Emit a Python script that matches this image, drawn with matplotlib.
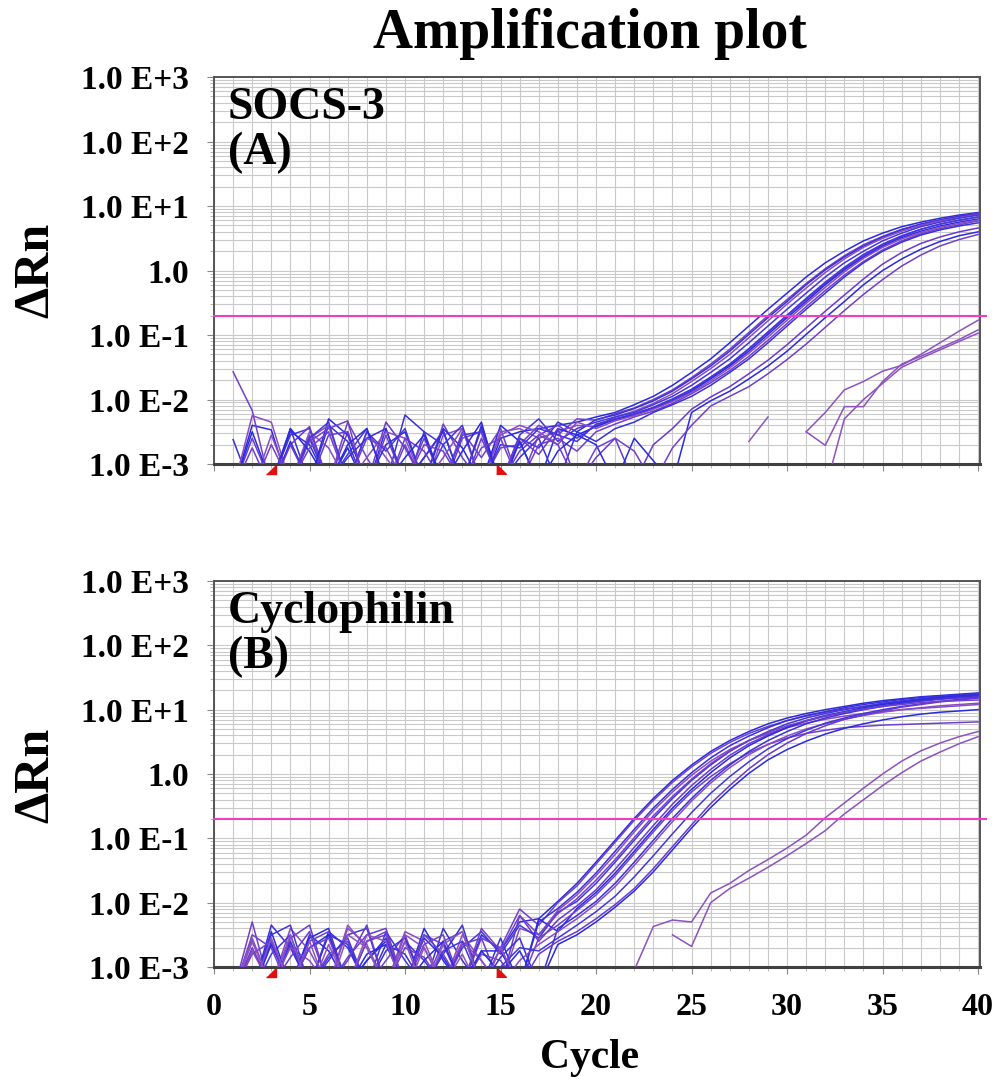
import numpy as np
import matplotlib.pyplot as plt
from matplotlib.ticker import FixedLocator, MultipleLocator, LogLocator, NullFormatter
from matplotlib.transforms import blended_transform_factory

plt.rcParams['font.family'] = ['Liberation Serif', 'DejaVu Serif']
plt.rcParams['font.weight'] = 'bold'

# ---- data: log10(delta Rn) per cycle 1..40, None = point not plotted ----
cycles = list(range(1, 41))
threshold = 0.2
baseline_marks = [3, 15]
ytick_values = [1e-3, 1e-2, 1e-1, 1.0, 1e1, 1e2, 1e3]
ytick_labels = ['1.0 E-3', '1.0 E-2', '1.0 E-1', '1.0', '1.0 E+1', '1.0 E+2', '1.0 E+3']
xtick_values = [0, 5, 10, 15, 20, 25, 30, 35, 40]

N = None

socs_main = [
    [-3.4, -2.4, -2.47, -3.4, -2.6, -3.3, -2.75, -3.4, -2.45, -3.3, -2.9, -2.48, -3.3, -3.4, -2.6,
     -2.5, -2.45, -2.4, -2.35, -2.27, -2.2, -2.08, -1.95, -1.78, -1.58, -1.37, -1.12, -0.86, -0.6, -0.35,
     -0.1, 0.12, 0.3, 0.46, 0.58, 0.68, 0.75, 0.81, 0.86, 0.9],
    [-1.57, -2.17, -3.4, -3.3, -2.55, -3.3, -2.35, -2.9, -3.4, -2.7, -3.3, -2.38, -2.9, -3.3, -2.75,
     -2.7, -2.4, -2.55, -2.3, -2.32, -2.22, -2.13, -2.0, -1.85, -1.66, -1.45, -1.22, -0.96, -0.7, -0.45,
     -0.2, 0.03, 0.23, 0.4, 0.53, 0.64, 0.72, 0.79, 0.84, 0.89],
    [-2.62, -3.4, -3.4, -2.45, -3.3, -2.4, -2.65, -3.4, -3.3, -2.24, -2.5, -3.3, -2.55, -2.5, -3.4,
     -2.6, -2.75, -2.35, -2.5, -2.31, -2.24, -2.14, -2.02, -1.87, -1.68, -1.48, -1.25, -0.99, -0.73, -0.48,
     -0.22, 0.01, 0.21, 0.38, 0.52, 0.63, 0.72, 0.78, 0.84, 0.88],
    [-3.4, -2.25, -2.35, -3.3, -2.5, -2.75, -3.3, -2.5, -2.9, -3.3, -3.4, -2.55, -2.45, -3.3, -2.5,
     -2.45, -2.6, -2.5, -2.4, -2.42, -2.27, -2.18, -2.06, -1.91, -1.72, -1.52, -1.3, -1.04, -0.78, -0.52,
     -0.27, -0.03, 0.18, 0.36, 0.5, 0.61, 0.7, 0.77, 0.82, 0.87],
    [-3.4, -3.4, -3.3, -2.55, -2.45, -3.3, -2.85, -2.45, -3.3, -3.4, -2.5, -2.7, -3.3, -2.45, -3.3,
     -2.55, -2.3, -2.65, -2.45, -2.35, -2.27, -2.2, -2.08, -1.95, -1.78, -1.58, -1.37, -1.12, -0.86, -0.6,
     -0.35, -0.1, 0.12, 0.3, 0.46, 0.58, 0.68, 0.75, 0.81, 0.86],
    [-3.4, -2.6, -3.3, -2.7, -2.42, -3.3, -2.5, -3.3, -2.35, -2.75, -3.3, -3.4, -2.6, -2.5, -3.3,
     -2.8, -2.55, -2.4, -2.6, -2.4, -2.3, -2.23, -2.13, -2.0, -1.85, -1.66, -1.46, -1.22, -0.96, -0.7,
     -0.45, -0.2, 0.03, 0.23, 0.4, 0.53, 0.64, 0.72, 0.78, 0.83],
    [-3.4, -3.4, -3.4, -2.65, -3.3, -2.3, -2.55, -3.3, -2.7, -2.5, -3.3, -2.45, -2.75, -3.3, -2.4,
     -2.65, -3.3, -2.45, -2.55, -2.42, -2.31, -2.24, -2.14, -2.02, -1.87, -1.68, -1.48, -1.25, -0.99, -0.73,
     -0.48, -0.22, 0.01, 0.21, 0.38, 0.51, 0.61, 0.69, 0.75, 0.8],
    [-3.4, -2.75, -3.4, -3.3, -2.65, -2.45, -2.33, -3.4, -2.55, -3.3, -2.6, -3.3, -2.5, -2.9, -2.45,
     -3.3, -2.7, -2.6, -2.8, -2.5, -2.38, -2.27, -2.18, -2.06, -1.91, -1.74, -1.55, -1.33, -1.08, -0.82,
     -0.56, -0.31, -0.07, 0.14, 0.32, 0.46, 0.57, 0.65, 0.71, 0.77],
    [-3.4, -3.4, -3.3, -2.5, -2.7, -3.3, -2.9, -2.6, -2.45, -3.3, -2.9, -2.5, -3.3, -2.4, -3.3,
     -2.9, -2.6, -3.3, -2.5, -2.65, -2.45, -2.35, -2.2, -2.08, -1.95, -1.78, -1.58, -1.37, -1.12, -0.86,
     -0.6, -0.35, -0.1, 0.12, 0.3, 0.44, 0.55, 0.63, 0.69, 0.74],
    [-3.4, -3.4, -2.55, -3.3, -2.6, -2.4, -3.3, -2.9, -2.5, -2.6, -3.3, -2.9, -2.45, -3.3, -2.55,
     -2.4, -2.5, -2.7, -2.35, -2.45, -2.33, -2.25, -2.15, -2.03, -1.89, -1.71, -1.51, -1.28, -1.03, -0.77,
     -0.51, -0.26, -0.02, 0.19, 0.36, 0.49, 0.59, 0.67, 0.73, 0.78],
    [-3.4, -3.4, -3.4, -3.3, -2.6, -2.35, -3.3, -2.5, -2.8, -2.45, -3.3, -2.7, -2.4, -3.3, -2.7,
     -2.75, -2.45, -2.55, -2.65, -2.38, -2.3, -2.22, -2.12, -1.99, -1.84, -1.65, -1.45, -1.21, -0.95, -0.69,
     -0.43, -0.18, 0.05, 0.25, 0.41, 0.54, 0.64, 0.72, 0.78, 0.83],
]

socs_later = [
    [-3.4, -3.4, -3.4, -2.7, -3.3, -2.55, -2.5, -3.3, -3.4, -2.6, -2.8, -3.3, -3.4, -2.6, -3.3,
     -2.6, -2.85, -2.45, -3.3, -2.9, -2.6, -3.3, -2.7, -2.45, -2.15, -1.96, -1.8, -1.6, -1.39, -1.15,
     -0.89, -0.63, -0.38, -0.13, 0.1, 0.28, 0.42, 0.52, 0.6, 0.66],
    [-3.4, -2.5, -3.3, -2.45, -2.8, -3.3, -2.7, -2.45, -3.3, -2.9, -2.55, -3.3, -2.8, -2.35, -3.4,
     -2.65, -3.3, -2.8, -2.55, -2.7, -3.3, -2.6, -2.95, -3.3, -2.2, -2.02, -1.87, -1.68, -1.48, -1.25,
     -0.99, -0.73, -0.48, -0.22, 0.0, 0.18, 0.33, 0.45, 0.54, 0.6],
    [-3.4, -3.4, -2.7, -3.3, -2.75, -2.5, -3.3, -2.6, -2.75, -3.3, -2.7, -2.8, -3.3, -2.75, -2.6,
     -3.3, -2.55, -2.7, -3.3, -2.75, -2.6, -2.8, -3.3, -2.75, -2.4, -2.1, -1.95, -1.8, -1.6, -1.38,
     -1.14, -0.88, -0.62, -0.37, -0.14, 0.07, 0.24, 0.38, 0.48, 0.56],
]

socs_weak = [
    [N] * 30 + [-2.5, -2.2, -1.85, -1.72, -1.56, -1.47, -1.3, -1.12, -0.94, -0.77],
    [N] * 30 + [-2.5, -2.71, -2.11, -2.11, -1.72, -1.45, -1.33, -1.2, -1.07, -0.92],
    [N] * 31 + [-3.4, -2.3, -2.0, -1.75, -1.5, -1.36, -1.23, -1.1, -0.97],
    [N] * 27 + [-2.65, -2.27] + [N] * 11,
]

cyclo_main = [
    [-3.4, -3.4, -2.6, -3.3, -2.5, -2.75, -3.3, -2.9, -2.6, -3.3, -2.55, -2.85, -3.3, -2.5,
     -2.75, -2.3, -2.25, -1.98, -1.7, -1.37, -1.03, -0.69, -0.38, -0.1, 0.14, 0.35, 0.52, 0.66, 0.78, 0.87,
     0.94, 1.0, 1.05, 1.1, 1.14, 1.17, 1.2, 1.22, 1.24, 1.26],
    [-3.4, -2.3, -3.4, -2.65, -3.3, -2.8, -2.6, -3.3, -2.9, -2.5, -3.3, -2.6, -2.45, -3.3,
     -2.7, -2.1, -2.35, -2.0, -1.74, -1.4, -1.06, -0.72, -0.41, -0.13, 0.11, 0.32, 0.49, 0.63, 0.74, 0.83,
     0.9, 0.96, 1.01, 1.05, 1.09, 1.12, 1.15, 1.17, 1.19, 1.21],
    [-3.4, -3.4, -2.35, -2.7, -3.3, -2.45, -2.7, -3.3, -2.65, -2.8, -3.3, -2.4, -2.9, -3.3,
     -2.55, -3.3, -2.3, -2.09, -1.84, -1.54, -1.2, -0.86, -0.53, -0.24, 0.02, 0.25, 0.44, 0.59, 0.72, 0.83,
     0.91, 0.97, 1.03, 1.08, 1.12, 1.16, 1.19, 1.21, 1.23, 1.25],
    [-3.4, -2.75, -3.3, -2.4, -2.75, -3.3, -2.35, -2.7, -3.3, -2.45, -2.6, -3.3, -2.5, -2.9,
     -3.3, -2.4, -2.5, -2.12, -1.88, -1.58, -1.25, -0.9, -0.57, -0.28, -0.02, 0.2, 0.38, 0.52, 0.63, 0.72,
     0.79, 0.85, 0.9, 0.94, 0.97, 1.0, 1.02, 1.04, 1.06, 1.08],
    [-3.4, -3.4, -2.8, -2.5, -3.3, -2.9, -2.5, -2.4, -3.3, -2.6, -2.9, -3.3, -2.7, -2.45,
     -2.8, -2.35, -2.55, -2.15, -1.98, -1.7, -1.37, -1.03, -0.69, -0.38, -0.1, 0.14, 0.35, 0.52, 0.66, 0.78,
     0.87, 0.94, 1.0, 1.05, 1.1, 1.14, 1.17, 1.2, 1.22, 1.24],
    [-3.4, -2.6, -3.3, -2.55, -2.35, -3.3, -2.85, -2.5, -2.4, -3.3, -2.5, -2.65, -3.3, -2.55,
     -3.3, -2.2, -2.6, -2.27, -2.05, -1.8, -1.48, -1.14, -0.8, -0.47, -0.18, 0.07, 0.29, 0.47, 0.61, 0.73,
     0.82, 0.9, 0.96, 1.01, 1.06, 1.1, 1.13, 1.16, 1.18, 1.2],
    [-3.4, -3.4, -2.45, -3.3, -2.55, -2.4, -3.3, -2.9, -2.55, -3.3, -2.4, -2.9, -3.3, -2.75,
     -2.75, -3.3, -2.25, -2.45, -2.09, -1.84, -1.54, -1.2, -0.86, -0.53, -0.24, 0.02, 0.25, 0.44, 0.59, 0.72,
     0.83, 0.91, 0.97, 1.03, 1.08, 1.12, 1.16, 1.19, 1.21, 1.23],
    [-3.4, -2.5, -2.7, -3.4, -2.6, -2.45, -3.3, -2.6, -2.5, -3.3, -2.65, -2.5, -3.3, -2.8,
     -2.9, -3.3, -2.55, -2.35, -2.12, -1.88, -1.58, -1.24, -0.9, -0.57, -0.28, -0.04, 0.16, 0.33, 0.46, 0.56,
     0.63, 0.68, 0.72, 0.74, 0.76, 0.77, 0.78, 0.79, 0.8, 0.81],
    [-3.4, -3.4, -3.4, -2.6, -3.3, -2.5, -2.65, -3.3, -2.75, -2.55, -3.3, -2.8, -2.35, -3.3,
     -2.85, -2.55, -3.3, -2.4, -2.2, -1.98, -1.7, -1.37, -1.03, -0.69, -0.38, -0.1, 0.14, 0.35, 0.52, 0.66,
     0.78, 0.87, 0.94, 1.0, 1.05, 1.1, 1.14, 1.17, 1.2, 1.22],
    [-3.4, -2.55, -3.3, -2.7, -2.9, -3.3, -2.4, -2.65, -3.3, -2.5, -2.7, -3.3, -2.6, -2.9,
     -3.3, -2.9, -2.65, -2.45, -2.25, -2.02, -1.75, -1.42, -1.08, -0.74, -0.42, -0.14, 0.1, 0.3, 0.46, 0.59,
     0.7, 0.78, 0.85, 0.91, 0.96, 1.0, 1.03, 1.06, 1.08, 1.1],
    [-3.4, -3.4, -2.5, -2.35, -3.3, -2.85, -2.55, -3.3, -2.45, -2.9, -3.3, -2.75, -2.6, -3.3,
     -3.0, -2.7, -2.75, -2.55, -2.35, -2.14, -1.9, -1.6, -1.27, -0.93, -0.6, -0.3, -0.04, 0.19, 0.39, 0.55,
     0.68, 0.79, 0.87, 0.94, 1.0, 1.05, 1.09, 1.13, 1.16, 1.19],
    [-3.4, -2.7, -3.3, -2.85, -2.45, -3.3, -2.9, -2.35, -3.3, -2.7, -2.85, -3.3, -2.65, -2.55,
     -2.7, -3.3, -2.8, -2.6, -2.45, -2.25, -2.03, -1.78, -1.47, -1.13, -0.79, -0.46, -0.18, 0.08, 0.3, 0.48,
     0.63, 0.75, 0.85, 0.92, 0.98, 1.04, 1.08, 1.12, 1.15, 1.18],
    [-3.4, -3.4, -2.65, -3.3, -2.7, -2.5, -3.3, -2.8, -2.65, -3.3, -2.9, -2.6, -3.3, -2.75,
     -3.1, -2.75, -3.3, -2.65, -2.5, -2.3, -2.07, -1.82, -1.52, -1.18, -0.84, -0.52, -0.24, 0.01, 0.22, 0.38,
     0.51, 0.62, 0.71, 0.78, 0.84, 0.89, 0.93, 0.96, 0.98, 1.0],
    [-3.4, -2.8, -2.6, -3.3, -2.7, -2.55, -3.3, -2.6, -2.45, -3.3, -2.5, -2.8, -3.3, -2.4,
     -2.75, -2.2, -2.5, -2.17, -1.94, -1.65, -1.33, -0.99, -0.65, -0.35, -0.08, 0.16, 0.36, 0.52, 0.65, 0.75,
     0.83, 0.9, 0.96, 1.01, 1.05, 1.08, 1.11, 1.13, 1.14, 1.15],
]

cyclo_late = [
    [-3.4, -2.6, -3.3, -2.5, -3.4, -2.65, -3.3, -2.5, -2.6, -3.4, -2.7, -3.3, -2.8, -3.4,
     -2.7, -3.3, -3.4, -3.4, -3.4, -3.4, -3.5, -3.05, -2.37, -2.27, -2.3, -1.85, -1.7, -1.5, -1.33, -1.15,
     -0.95, -0.68, -0.45, -0.22, 0.0, 0.2, 0.36, 0.48, 0.58, 0.66],
    [-3.4, -3.4, -2.55, -3.3, -2.6, -3.4, -2.5, -2.7, -3.3, -2.6, -3.4, -2.65, -2.45, -3.3,
     -3.4, -3.4, N, N, N, N, N, N, N, -2.5, -2.68, -2.0, -1.78, -1.62, -1.45, -1.27,
     -1.08, -0.88, -0.62, -0.4, -0.18, 0.02, 0.2, 0.34, 0.47, 0.58],
]

# ---- styling ----
palette = ['#2a2ae0', '#7040cc', '#3a30d8', '#8a4cc4', '#4236dc', '#6a3ad0']
weak_color = '#8c52c0'
grid_color = '#c9c9c9'
frame_color = '#555555'

fig = plt.figure(figsize=(9.99, 10.87), dpi=100)
ax_top = fig.add_axes([0.2142, 0.5731, 0.7668, 0.3560])
ax_bot = fig.add_axes([0.2142, 0.1104, 0.7668, 0.3551])


def draw_panel(ax, groups, label, show_xlabels):
    k = 0
    for curves, fixed_color in groups:
        for row in curves:
            y = 10 ** np.array(row, dtype=float)
            c = fixed_color if fixed_color else palette[k % len(palette)]
            ax.plot(cycles, y, color=c, lw=1.1, zorder=3)
            k += 1

    ax.set_yscale('log')
    ax.set_ylim(1e-3, 1e3)
    ax.set_xlim(0, 40.1)
    ax.set_facecolor('white')

    ax.axhline(threshold, xmin=0, xmax=1.008, color='#ee3fc4', lw=1.5, zorder=4, clip_on=False)

    ax.xaxis.set_major_locator(FixedLocator(xtick_values))
    ax.xaxis.set_minor_locator(MultipleLocator(1))
    ax.yaxis.set_major_locator(FixedLocator(ytick_values))
    ax.yaxis.set_minor_locator(LogLocator(base=10, subs=np.arange(2, 10)))
    ax.yaxis.set_minor_formatter(NullFormatter())
    ax.set_yticklabels(ytick_labels, fontsize=24, fontweight='bold')
    if show_xlabels:
        ax.set_xticklabels([str(v) for v in xtick_values], fontsize=23, fontweight='bold')
    else:
        ax.set_xticklabels([])

    ax.grid(True, which='both', color=grid_color, lw=0.8, zorder=0)
    ax.set_axisbelow(True)
    ax.tick_params(axis='both', which='major', length=5, width=0.8, color='#888888', direction='out')
    ax.tick_params(axis='both', which='minor', length=3, width=0.6, color='#aaaaaa', direction='out')
    ax.tick_params(axis='y', which='major', pad=13)
    ax.tick_params(axis='x', which='major', pad=14)

    for side in ['top', 'right', 'left']:
        ax.spines[side].set_color(frame_color)
        ax.spines[side].set_linewidth(1.4)
    ax.spines['bottom'].set_color('#404040')
    ax.spines['bottom'].set_linewidth(2.2)

    # baseline start / end markers
    trans = blended_transform_factory(ax.transData, ax.transAxes)
    ax.plot([baseline_marks[0]], [-0.012], transform=trans, marker=[(-1, -1), (1, -1), (1, 1)],
            ms=7, color='#e01010', ls='none', clip_on=False)
    ax.plot([baseline_marks[1]], [-0.012], transform=trans, marker=[(-1, -1), (1, -1), (-1, 1)],
            ms=7, color='#e01010', ls='none', clip_on=False)

    ax.text(0.018, 0.975, label, transform=ax.transAxes, ha='left', va='top',
            fontsize=33, fontweight='bold', linespacing=1.1, zorder=5)


draw_panel(ax_top, [(socs_main, None), (socs_later, None), (socs_weak, weak_color)], 'SOCS-3\n(A)', False)
draw_panel(ax_bot, [(cyclo_main, None), (cyclo_late, weak_color)], 'Cyclophilin\n(B)', True)

fig.text(0.5906, 0.969, 'Amplification plot', ha='center', va='center', fontsize=40, fontweight='bold')
fig.text(0.036, 0.7516, '\u0394Rn', ha='center', va='center', rotation=90, fontsize=36, fontweight='bold')
fig.text(0.036, 0.2870, '\u0394Rn', ha='center', va='center', rotation=90, fontsize=36, fontweight='bold')
fig.text(0.5906, 0.027, 'Cycle', ha='center', va='center', fontsize=30, fontweight='bold')

fig.savefig('out.png', dpi=100)
